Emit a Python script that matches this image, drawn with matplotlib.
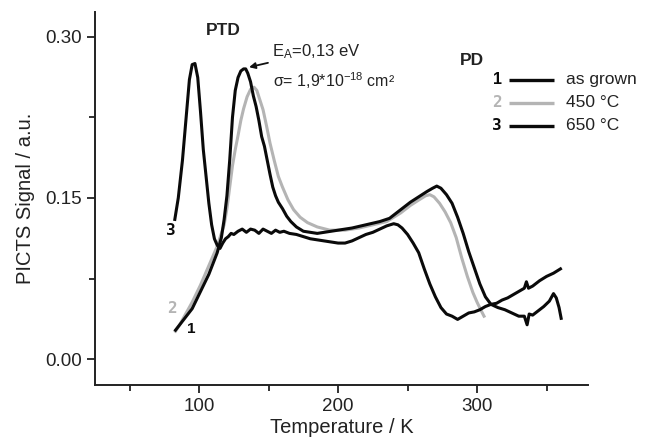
import matplotlib
matplotlib.use("Agg")
import matplotlib.pyplot as plt

plt.rcParams['font.family'] = ['Liberation Sans', 'DejaVu Sans']
plt.rcParams['mathtext.fontset'] = 'custom'
plt.rcParams['mathtext.rm'] = 'Liberation Sans'
plt.rcParams['mathtext.it'] = 'Liberation Sans:italic'
plt.rcParams['mathtext.bf'] = 'Liberation Sans:bold'

# ---- data ----
# curve 1: as grown
t1 = [83, 86, 89, 92, 95, 98, 101, 104, 107, 110, 113, 116, 118, 120, 122, 124, 126, 128,
      130, 132, 133.5, 135, 137, 139, 141, 143, 145, 147, 149, 151, 153, 155, 157, 160, 163,
      166, 170, 175, 180, 185, 190, 195, 200, 210, 220, 230, 237, 245, 252, 258, 264, 268,
      271, 274, 278, 282, 286, 290, 294, 298, 302, 306, 310, 315, 320, 325, 330, 334, 336,
      337.5, 340, 344, 348, 352, 355, 357, 359, 360.5]
s1 = [0.027, 0.032, 0.037, 0.042, 0.047, 0.055, 0.063, 0.071, 0.079, 0.089, 0.099, 0.113,
      0.130, 0.152, 0.185, 0.225, 0.250, 0.262, 0.268, 0.270, 0.270, 0.266, 0.258, 0.245,
      0.235, 0.222, 0.207, 0.198, 0.185, 0.172, 0.160, 0.152, 0.146, 0.140, 0.133, 0.128,
      0.123, 0.119, 0.118, 0.117, 0.118, 0.119, 0.120, 0.122, 0.125, 0.128, 0.131, 0.139,
      0.146, 0.151, 0.156, 0.159, 0.161, 0.159, 0.153, 0.145, 0.132, 0.117, 0.100, 0.085,
      0.070, 0.058, 0.051, 0.048, 0.046, 0.043, 0.040, 0.040, 0.032, 0.042, 0.041, 0.045,
      0.049, 0.054, 0.061, 0.057, 0.048, 0.038]

# curve 2: 450 °C
t2 = [83, 86, 89, 92, 95, 98, 101, 104, 107, 110, 113, 116, 118, 120, 122, 124, 126, 128,
      130, 132, 134.5, 137, 139.5, 141.5, 144, 146, 148.5, 151, 154, 157, 160, 164, 168,
      172.7, 178, 185, 194, 205, 215, 225, 235, 245, 252, 258, 263, 266, 269, 273, 277, 281,
      285, 289, 293, 297, 300, 303, 305]
s2 = [0.026, 0.032, 0.039, 0.046, 0.053, 0.061, 0.069, 0.078, 0.087, 0.096, 0.105, 0.117,
      0.125, 0.140, 0.160, 0.180, 0.195, 0.208, 0.222, 0.233, 0.244, 0.251, 0.253, 0.250,
      0.240, 0.232, 0.217, 0.201, 0.185, 0.170, 0.160, 0.148, 0.139, 0.132, 0.127, 0.123,
      0.120, 0.120, 0.122, 0.125, 0.128, 0.136, 0.143, 0.148, 0.152, 0.153, 0.151, 0.145,
      0.137, 0.127, 0.113, 0.094, 0.077, 0.062, 0.053, 0.045, 0.040]

# curve 3: 650 °C
t3 = [82.5, 85, 88, 91, 93, 95, 97, 99, 101, 103, 105, 107, 109, 111, 113, 115, 117, 119,
      121, 123, 125, 128, 131, 134, 137, 140, 143, 146, 149, 152, 155, 158, 161, 165, 170,
      175, 180, 185, 190, 195, 200, 205, 210, 215, 220, 225, 230, 235, 240, 243, 246, 250,
      254, 258, 262, 266, 270, 274, 278, 282, 286, 290, 294, 298, 302, 306, 310, 314, 318,
      322, 326, 330, 334, 335.5, 337, 340, 345, 350, 355, 360]
s3 = [0.130, 0.150, 0.185, 0.230, 0.260, 0.274, 0.275, 0.262, 0.230, 0.195, 0.170, 0.145,
      0.125, 0.112, 0.106, 0.103, 0.108, 0.112, 0.114, 0.117, 0.116, 0.119, 0.121, 0.118,
      0.121, 0.120, 0.117, 0.121, 0.119, 0.117, 0.120, 0.118, 0.119, 0.117, 0.116, 0.114,
      0.112, 0.111, 0.110, 0.109, 0.108, 0.108, 0.110, 0.113, 0.116, 0.118, 0.121, 0.124,
      0.126, 0.125, 0.122, 0.116, 0.108, 0.099, 0.084, 0.070, 0.058, 0.048, 0.042, 0.040,
      0.037, 0.040, 0.043, 0.044, 0.046, 0.049, 0.051, 0.052, 0.055, 0.057, 0.060, 0.063,
      0.066, 0.072, 0.066, 0.068, 0.073, 0.077, 0.080, 0.084]

legend_ids = ['1', '2', '3']
legend_labels = ['as grown', '450 °C', '650 °C']
x_ticks = [100, 200, 300]
y_ticks = [0.00, 0.15, 0.30]

black = '#0a0a0a'
gray = '#b4b4b4'

fig = plt.figure(figsize=(6.5, 4.41), dpi=100)
ax = fig.add_axes([0.146, 0.127, 0.759, 0.846])

ax.plot(t2, s2, color=gray, lw=2.2, solid_joinstyle='round', zorder=2)
ax.plot(t1, s1, color=black, lw=2.2, solid_joinstyle='round', zorder=3)
ax.plot(t3, s3, color=black, lw=2.2, solid_joinstyle='round', zorder=3)

ax.set_xlim(25, 380)
ax.set_ylim(-0.024, 0.323)
ax.set_xticks(x_ticks)
ax.set_xticks([50, 150, 250, 350], minor=True)
ax.set_yticks(y_ticks)
ax.set_yticks([0.075, 0.225], minor=True)
ax.set_yticklabels(['%.2f' % v for v in y_ticks])

for sp in ['top', 'right']:
    ax.spines[sp].set_visible(False)
for sp in ['left', 'bottom']:
    ax.spines[sp].set_linewidth(1.4)
    ax.spines[sp].set_color('#222222')

ax.tick_params(which='major', direction='out', length=6, width=1.3, labelsize=13.5,
               pad=3.5, colors='#222222')
ax.tick_params(which='minor', direction='out', length=4, width=1.3, colors='#222222')

ax.set_xlabel('Temperature / K', fontsize=14.5, labelpad=2, color='#222222')
ax.set_ylabel('PICTS Signal / a.u.', fontsize=14.5, labelpad=7, color='#222222')

# annotations
ax.text(0.26, 0.949, 'PTD', transform=ax.transAxes, fontsize=12.5, fontweight='bold',
        ha='center', va='center', color='#222222')
ax.annotate('E$_\\mathrm{A}$=0,13 eV', xy=(134, 0.271), xytext=(152.5, 0.286),
            fontsize=12, ha='left', va='center', color='#222222',
            arrowprops=dict(arrowstyle='-|>', color='#111111', lw=1.3,
                            mutation_scale=9, shrinkA=1, shrinkB=2))
ax.text(153, 0.259, 'σ= 1,9*10$^{\\mathrm{-18}}$ cm²', fontsize=11.5, ha='left',
        va='center', color='#222222')

ax.text(0.765, 0.871, 'PD', transform=ax.transAxes, fontsize=12.5, fontweight='bold',
        ha='center', va='center', color='#222222')

# manual legend
leg_colors = [black, gray, black]
leg_fonts = [dict(family='Liberation Sans', fontweight='bold'),
             dict(family='DejaVu Sans Mono', fontweight='bold'),
             dict(family='DejaVu Sans Mono', fontweight='bold')]
for i in range(3):
    yv = 0.260 - i * 0.0215
    ax.text(318, yv, legend_ids[i], color=leg_colors[i], fontsize=11.5, ha='right',
            va='center', **leg_fonts[i])
    ax.plot([323, 355], [yv, yv], color=leg_colors[i], lw=2.4, solid_capstyle='butt',
            clip_on=False)
    ax.text(364, yv, legend_labels[i], color='#222222', fontsize=12.5, ha='left',
            va='center')

# curve labels
ax.text(79.5, 0.120, '3', color=black, fontsize=11.5, ha='center', va='center',
        family='DejaVu Sans Mono', fontweight='bold')
ax.text(80.5, 0.047, '2', color=gray, fontsize=11.5, ha='center', va='center',
        family='DejaVu Sans Mono', fontweight='bold')
ax.text(94.5, 0.028, '1', color=black, fontsize=11, ha='center', va='center',
        fontweight='bold')

fig.savefig('out.png', dpi=100)
